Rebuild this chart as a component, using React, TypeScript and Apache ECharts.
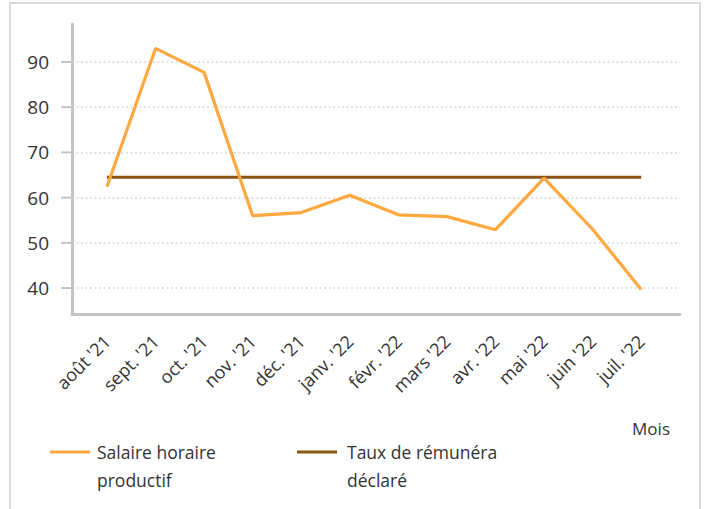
import React, { useEffect, useRef } from "react";
import * as echarts from "echarts";

const months = [
  "août '21", "sept. '21", "oct. '21", "nov. '21", "déc. '21", "janv. '22",
  "févr. '22", "mars '22", "avr. '22", "mai '22", "juin '22", "juil. '22",
];
const salaireHoraire = [62.4, 93.0, 87.7, 56.0, 56.7, 60.5, 56.2, 55.8, 52.9, 64.3, 53.0, 39.7];
const tauxDeclare = [64.5, 64.5, 64.5, 64.5, 64.5, 64.5, 64.5, 64.5, 64.5, 64.5, 64.5, 64.5];
const yTicks = [40, 50, 60, 70, 80, 90];
const seriesNames = ["Salaire horaire productif", "Taux de rémunéra déclaré"];
const legendLabels = ["Salaire horaire\nproductif", "Taux de rémunéra\ndéclaré"];
const xAxisName = "Mois";

const ORANGE = "#FFA83F";
const BROWN = "#8A5412";
const FONT = "'Open Sans', 'Noto Sans', sans-serif";
const TEXT = "#333333";
const AXIS = "#c4c4c4";

export default function App() {
  const ref = useRef<HTMLDivElement>(null);
  useEffect(() => {
    if (!ref.current) return;
    const chart = echarts.init(ref.current, null, { renderer: "svg" });
    const idx = months.map((_, i) => i);
    chart.setOption({
      animation: false,
      backgroundColor: "#ffffff",
      grid: { left: 72, right: 24, top: 24, bottom: 195, outerBoundsMode: "none", containLabel: false },
      xAxis: {
        type: "value",
        min: -0.72,
        max: 11.8,
        name: xAxisName,
        nameLocation: "end",
        nameGap: -10,
        nameTextStyle: {
          fontFamily: FONT, fontSize: 17, color: TEXT,
          align: "right", verticalAlign: "top", padding: [106, 0, 0, 0],
        },
        axisLine: { show: true, onZero: false, lineStyle: { color: AXIS, width: 3 } },
        axisTick: { show: false },
        splitLine: { show: false },
        axisLabel: {
          customValues: idx,
          rotate: 45,
          margin: 24,
          fontFamily: FONT,
          fontSize: 18,
          color: TEXT,
          formatter: (v: number) => months[Math.round(v)] ?? "",
        },
      },
      yAxis: {
        type: "value",
        min: 34.26,
        max: 98.4,
        axisLine: { show: true, onZero: false, lineStyle: { color: AXIS, width: 3 } },
        axisTick: { show: false },
        splitLine: { show: true, showMinLine: false, showMaxLine: false, lineStyle: { color: "#d9d9d9", width: 1.5, type: [2, 2.5] } },
        axisLabel: {
          customValues: yTicks,
          margin: 23,
          fontFamily: FONT,
          fontSize: 19,
          color: TEXT,
        },
      },
      series: [
        {
          name: seriesNames[0],
          type: "line",
          data: salaireHoraire.map((v, i) => [i, v]),
          showSymbol: false,
          symbol: "none",
          lineStyle: { color: ORANGE, width: 3.2 },
          itemStyle: { color: ORANGE },
          z: 3,
        },
        {
          name: seriesNames[1],
          type: "line",
          data: tauxDeclare.map((v, i) => [i, v]),
          showSymbol: false,
          symbol: "none",
          lineStyle: { color: BROWN, width: 3.2 },
          itemStyle: { color: BROWN },
          z: 2,
        },
      ],
    });

    const axisX = chart.convertToPixel({ xAxisIndex: 0 }, -0.72) as number;
    const tickGraphics = yTicks.map((v) => {
      const y = chart.convertToPixel({ yAxisIndex: 0 }, v) as number;
      return {
        type: "line",
        shape: { x1: axisX - 11, y1: y, x2: axisX, y2: y },
        style: { stroke: AXIS, lineWidth: 2 },
        silent: true,
      };
    });

    chart.setOption({
      graphic: [
        {
          type: "rect",
          shape: { x: 10, y: 3, width: 690, height: 530 },
          style: { fill: "none", stroke: "#d9d9d9", lineWidth: 2 },
          silent: true,
        },
        ...tickGraphics,
        {
          type: "line",
          shape: { x1: 50, y1: 452, x2: 90, y2: 452 },
          style: { stroke: ORANGE, lineWidth: 3 },
        },
        {
          type: "text",
          x: 97,
          y: 438,
          style: { text: legendLabels[0], fontFamily: FONT, fontSize: 17.5, lineHeight: 28, fill: TEXT, verticalAlign: "top" },
        },
        {
          type: "line",
          shape: { x1: 297, y1: 452, x2: 337, y2: 452 },
          style: { stroke: BROWN, lineWidth: 3 },
        },
        {
          type: "text",
          x: 347,
          y: 438,
          style: { text: legendLabels[1], fontFamily: FONT, fontSize: 17.5, lineHeight: 28, fill: TEXT, verticalAlign: "top" },
        },
      ],
    });
    return () => chart.dispose();
  }, []);
  return (
    <div
      ref={ref}
      style={{ position: "fixed", left: 0, top: 0, width: 704, height: 509, background: "#fff" }}
    />
  );
}
